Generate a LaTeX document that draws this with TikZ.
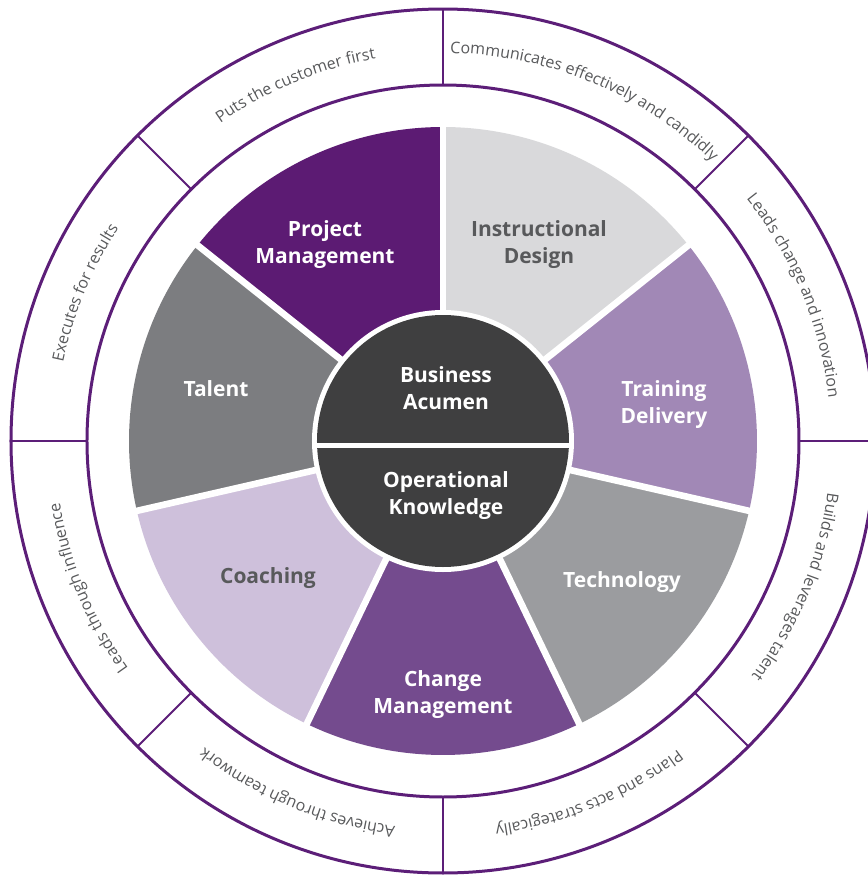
\documentclass[tikz,border=0pt]{standalone}
\usepackage{fontspec}
\setmainfont{Open Sans}
\usepackage{xcolor}
\usepackage{tikz}
\usetikzlibrary{calc,positioning}
\usetikzlibrary{decorations.text}

\definecolor{ringpurple}{HTML}{5C1E78}
\definecolor{pmpurple}{HTML}{5C1B73}
\definecolor{idgrey}{HTML}{D9D9DB}
\definecolor{tdlilac}{HTML}{A188B6}
\definecolor{techgrey}{HTML}{9B9C9F}
\definecolor{cmpurple}{HTML}{744B8E}
\definecolor{coachlilac}{HTML}{CEC0DB}
\definecolor{talentgrey}{HTML}{7C7D80}
\definecolor{coredark}{HTML}{3F3F40}
\definecolor{labelgrey}{HTML}{58595B}

\begin{document}
\begin{tikzpicture}[x=0.5pt,y=0.5pt]
				\tikzstyle{wlabel}=[font=\fontsize{10.5}{13.5}\selectfont\bfseries, align=center, text=white]
				\tikzstyle{dlabel}=[wlabel, text=labelgrey]
				\tikzstyle{ringline}=[draw=ringpurple, line width=1.5pt]
				\tikzstyle{spoke}=[draw=ringpurple, line width=1pt]
				\tikzstyle{gapline}=[draw=white, line width=3.3pt]
				\useasboundingbox (-443,-434) rectangle (425,441);
				% the seven wedges
				\foreach \i/\c in {0/pmpurple,1/idgrey,2/tdlilac,3/techgrey,4/cmpurple,5/coachlilac,6/talentgrey}
					\fill[\c] (0,0) -- ({90-\i*360/7}:314) arc[start angle={90-\i*360/7}, end angle={90-\i*360/7+360/7}, radius=314] -- cycle;
				\foreach \i in {0,...,6}
					\draw[gapline] (0,0) -- ({90-\i*360/7}:322);
				% core
				\fill[white] (0,0) circle[radius=131];
				\fill[coredark] (0,0) circle[radius=126];
				\draw[white, line width=2.5pt] (-131,-4) -- (131,-4);
				\node[wlabel] (pm) at (-118,196) {Project\\Management};
				\node[dlabel] (id) at (96,196) {Instructional\\Design};
				\node[wlabel] (td) at (221,36) {Training\\Delivery};
				\node[wlabel] (tech) at (179,-141) {Technology};
				\node[wlabel] (cm) at (0,-254) {Change\\Management};
				\node[dlabel] (coach) at (-175,-137) {Coaching};
				\node[wlabel] (talent) at (-227,52) {Talent};
				\node[wlabel] (ba) at (3,53) {Business\\Acumen};
				\node[wlabel] (ok) at (3,-55) {Operational\\Knowledge};
				% outer ring
				\draw[ringline] (0,0) circle[radius=432];
				\draw[ringline] (0,0) circle[radius=356];
				\foreach \a in {0,45,...,315}
					\draw[spoke] (\a:356) -- (\a:432);
				\begin{scope}
					\fontsize{8}{9.6}\selectfont
					\foreach \a/\t in {135/Puts the customer first, 90/Communicates effectively and candidly, 45/Leads change and innovation, 0/Builds and leverages talent, -45/Plans and acts strategically, -90/Achieves through teamwork, -135/Leads through influence, 180/Executes for results}
						\path[decorate, decoration={text along path, text/.expand once=\t, text align=center, text color=labelgrey}] (\a:388) arc[start angle=\a, end angle=\a-45, radius=388];
				\end{scope}
			\end{tikzpicture}
\end{document}
